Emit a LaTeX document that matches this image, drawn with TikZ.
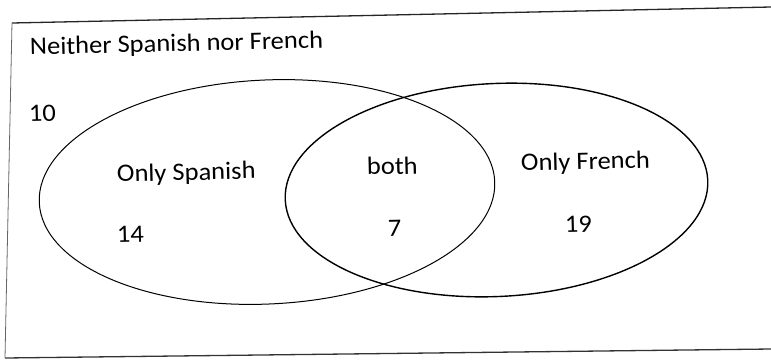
\documentclass[tikz,border=0pt]{standalone}
\usepackage{fontspec}
\setmainfont{Carlito}
\usetikzlibrary{shapes.geometric}
\begin{document}
\begin{tikzpicture}[x=1pt,y=1pt,
  label text/.style={anchor=base west, inner sep=0pt, rotate=1.4, xscale=1.06,
    font=\fontsize{25}{29}\selectfont},
  set ring/.style={draw=black, ellipse, inner sep=0pt, rotate=2.7}]
\useasboundingbox (0,0) rectangle (771,-362);
% universe frame (open on the right)
\coordinate (tl) at (12,-23);
\coordinate (tr) at (771,-7);
\coordinate (bl) at (5,-358);
\coordinate (br) at (771,-349);
\draw[line width=1.3pt, black!85] (tl) -- (tr);
\draw[line width=1.3pt, black!80] (bl) -- (br);
\draw[line width=0.8pt, black!60] (tl) -- (bl);
% the two sets
\node[set ring, line width=1.0pt, minimum width=456, minimum height=224] (S) at (267,-192) {};
\node[set ring, line width=1.4pt, minimum width=423, minimum height=213] (F) at (496.5,-190) {};
% labels and counts
\node[label text] (title) at (30,-55) {Neither Spanish nor French};
\node[label text] (n10) at (29,-122) {10};
\node[label text] (os) at (117,-182) {Only Spanish};
\node[label text] (n14) at (117,-243) {14};
\node[label text] (both) at (367,-175) {both};
\node[label text] (n7) at (388,-237) {7};
\node[label text] (of) at (521,-171) {Only French};
\node[label text] (n19) at (565,-233) {19};
\end{tikzpicture}
\end{document}
